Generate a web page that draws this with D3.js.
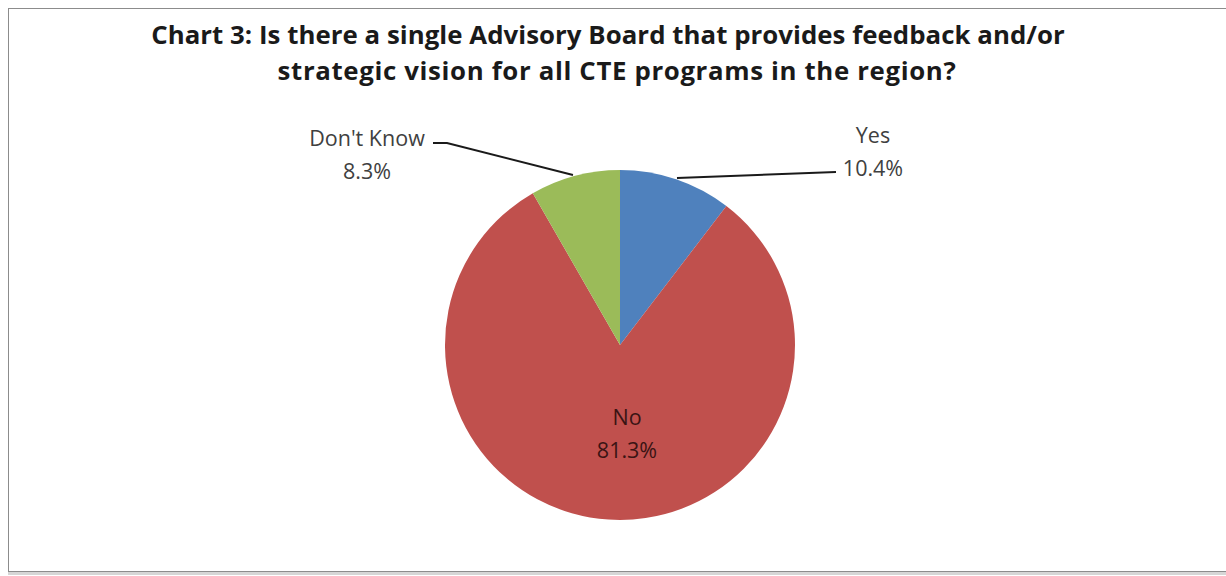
<!DOCTYPE html>
<html>
<head>
<meta charset="utf-8">
<script src="https://cdn.jsdelivr.net/npm/d3@7"></script>
<style>
  html, body { margin: 0; padding: 0; background: #ffffff; }
  svg { display: block; }
</style>
</head>
<body>
<script>
// Survey answers and their shares (percent)
const categories = ["Yes", "No", "Don't Know"];
const shares = [10.4, 81.3, 8.3];
const sliceColors = ["#4F81BD", "#C0504D", "#9BBB59"];
const titleLines = [
  "Chart 3: Is there a single Advisory Board that provides feedback and/or",
  "strategic vision for all CTE programs in the region?"
];

const W = 1226, H = 576;
const svg = d3.select("body").append("svg").attr("width", W).attr("height", H);

// Chart frame with soft shadow
svg.append("rect")
  .attr("x", 9.5).attr("y", 9.5).attr("width", W + 10).attr("height", H - 12)
  .attr("fill", "none").attr("stroke", "#d6d6d6").attr("stroke-width", 3);
svg.append("rect")
  .attr("x", 8.5).attr("y", 8.5).attr("width", W + 10).attr("height", H - 13)
  .attr("fill", "#ffffff").attr("stroke", "#8c8c8c").attr("stroke-width", 1);

const font = "'Open Sans', 'Noto Sans', sans-serif";

// Title (two lines)
svg.append("g").selectAll("text").data(titleLines).join("text")
  .attr("x", (d, i) => i === 1 ? 617 : 608).attr("y", (d, i) => 44 + i * 36)
  .attr("text-anchor", "middle")
  .attr("font-family", font).attr("font-weight", "bold").attr("font-size", 25.8)
  .attr("letter-spacing", (d, i) => i === 1 ? 0.65 : 0.05)
  .attr("fill", "#1a1a1a")
  .text(d => d);

// Pie
const cx = 620, cy = 345, R = 175;
const pie = d3.pie().sort(null).value(d => d.value);
const arcs = pie(categories.map((c, i) => ({ name: c, value: shares[i], color: sliceColors[i] })));
const arc = d3.arc().innerRadius(0).outerRadius(R);

const g = svg.append("g").attr("transform", `translate(${cx},${cy})`);
g.selectAll("path").data(arcs).join("path")
  .attr("d", arc)
  .attr("fill", d => d.data.color);

const fmt = v => v.toFixed(1) + "%";

// Label placement relative to the pie center; outside labels get leader lines
const labelPos = {
  "Yes": { x: 253, y: -202, leader: [[57, -167], [216, -173]] },
  "Don't Know": { x: -253, y: -199, leader: [[-187, -202], [-173, -202], [-47, -170]] },
  "No": { x: 7, y: 80 }
};

arcs.forEach(d => {
  const p = labelPos[d.data.name];
  if (p.leader) {
    g.append("path")
      .attr("d", d3.line()(p.leader))
      .attr("fill", "none").attr("stroke", "#1a1a1a").attr("stroke-width", 2);
  }
  const t = g.append("text")
    .attr("text-anchor", "middle")
    .attr("font-family", font).attr("font-size", 21.5)
    .attr("fill", d.data.name === "No" ? "#3a1414" : "#404040");
  t.append("tspan").attr("x", p.x).attr("y", p.y).text(d.data.name);
  t.append("tspan").attr("x", p.x).attr("y", p.y + 33).text(fmt(d.data.value));
});
</script>
</body>
</html>
